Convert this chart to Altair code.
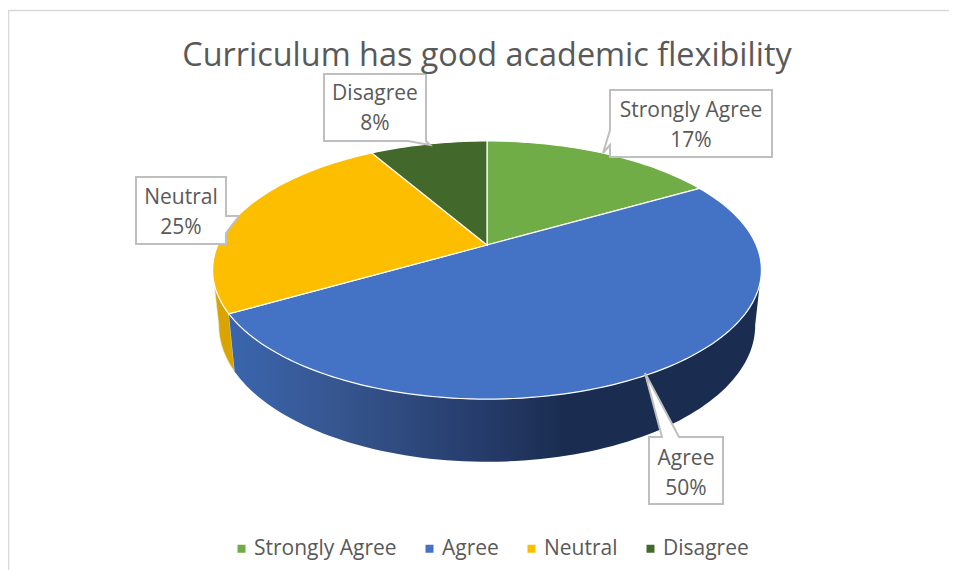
import math
import altair as alt

# ---- data ----
categories = ["Strongly Agree", "Agree", "Neutral", "Disagree"]
counts = [2, 6, 3, 1]
colors = ["#70AD47", "#4472C4", "#FDBE00", "#43682B"]
title_text = "Curriculum has good academic flexibility"

# ---- layout (page pixels) ----
OFF = 8
CX, CY = 487, 245
A, B, C = 124.2, 269.2, -0.194      # perspective of top rim
LOW_CY, LOW_A, LOW_B = 299, 131.2, 263.1
RIGHT_T, LEFT_T = 101, 259          # silhouette angles of the wall
TEXT = "#595959"
FONT = "Open Sans"
EDGE = "#BFBFBF"
W, H = 941, 562

label_boxes = {
    "Strongly Agree": dict(cx=691, y=111, pts=[(610, 90), (772, 90), (772, 157), (610, 157), (610, 145), (603, 153), (610, 130)]),
    "Agree": dict(cx=686, y=459, pts=[(649, 437), (662, 437), (645, 373), (679, 437), (723, 437), (723, 504), (649, 504)]),
    "Neutral": dict(cx=181, y=198, pts=[(136, 177), (226, 177), (226, 216), (239, 216), (226, 233), (226, 244), (136, 244)]),
    "Disagree": dict(cx=375, y=94, pts=[(324, 74), (426, 74), (426, 141), (430, 145), (408, 141), (324, 141)]),
}


def top(t):
    r = math.radians(t)
    u, v = math.sin(r), -math.cos(r)
    d = 1 + C * v
    return (CX + B * u / d, CY + A * v / d)


def low(t):
    r = math.radians(t)
    u, v = math.sin(r), -math.cos(r)
    d = 1 + C * v
    return (CX + LOW_B * u / d, LOW_CY + LOW_A * v / d)


def shift(pts):
    return [[round(x - OFF, 2), round(y - OFF, 2)] for x, y in pts]


def feature(pts, name=""):
    ring = shift(pts)
    ring.append(ring[0])
    return {"type": "Feature", "properties": {"name": name},
            "geometry": {"type": "Polygon", "coordinates": [ring]}}


def sweep(a, b, fn):
    n = max(2, int(abs(b - a) / 1.5))
    return [fn(a + (b - a) * i / n) for i in range(n + 1)]


total = sum(counts)
edges = [0]
for c in counts:
    edges.append(edges[-1] + 360 * c / total)

proj = dict(type="identity", scale=1, translate=[0, 0])

# walls
yellow_wall = feature(sweep(edges[2], LEFT_T, top) + sweep(LEFT_T, edges[2], low))
blue_wall = feature(sweep(RIGHT_T, edges[2], top) + sweep(edges[2], RIGHT_T, low))

blue_grad = alt.LinearGradient(
    gradient="linear", x1=0, x2=1, y1=0, y2=0,
    stops=[
        alt.GradientStop(offset=0, color="#3A66AE"),
        alt.GradientStop(offset=0.2, color="#365690"),
        alt.GradientStop(offset=0.47, color="#263C6B"),
        alt.GradientStop(offset=0.63, color="#1A2D50"),
        alt.GradientStop(offset=1, color="#1A2D50"),
    ],
)

wall_y = alt.Chart(alt.Data(values=[yellow_wall])).mark_geoshape(
    fill="#D9A300", stroke="#E8E4D0", strokeWidth=0.6).project(**proj)
wall_b = alt.Chart(alt.Data(values=[blue_wall])).mark_geoshape(
    fill=blue_grad, strokeWidth=0).project(**proj)

# top slices
slices = []
for i, name in enumerate(categories):
    pts = [(CX, CY)] + sweep(edges[i], edges[i + 1], top)
    slices.append(feature(pts, name))

top_layer = alt.Chart(alt.Data(values=slices)).mark_geoshape(
    stroke="white", strokeWidth=1.2
).encode(
    color=alt.Color(
        "properties.name:N",
        scale=alt.Scale(domain=categories, range=colors),
        legend=alt.Legend(
            title=None, orient="none", legendX=223, legendY=530,
            direction="horizontal", columns=4, symbolType="square",
            symbolSize=64, symbolStrokeWidth=0, labelFont=FONT, labelFontSize=21,
            labelColor=TEXT, labelOffset=2, columnPadding=22, labelLimit=300,
        ),
    )
).project(**proj)

# callouts
boxes = []
texts = []
for name, c in zip(categories, counts):
    info = label_boxes[name]
    boxes.append(alt.Chart(alt.Data(values=[feature(info["pts"])])).mark_geoshape(
        fill="white", stroke=EDGE, strokeWidth=2).project(**proj))
    pct = round(100 * c / total)
    texts.append(alt.Chart(alt.Data(values=[{"t": f"{name}\n{pct}%"}])).mark_text(
        font=FONT, fontSize=21, color=TEXT, align="center", baseline="middle",
        lineBreak="\n", lineHeight=30,
    ).encode(text="t:N", x=alt.value(info["cx"] - OFF), y=alt.value(info["y"] - OFF)))

# frame
frame_top = alt.Chart(alt.Data(values=[{"a": 0}])).mark_rule(color="#D9D9D9", strokeWidth=1.5).encode(
    x=alt.value(0), x2=alt.value(W), y=alt.value(2.6))
frame_left = alt.Chart(alt.Data(values=[{"a": 0}])).mark_rule(color="#D9D9D9", strokeWidth=1.5).encode(
    x=alt.value(0.5), y=alt.value(2), y2=alt.value(H))

chart = alt.layer(
    frame_top, frame_left, wall_y, wall_b, top_layer, *boxes, *texts
).properties(
    width=W, height=H,
    padding=0,
    background="white",
    autosize=alt.AutoSizeParams(type="none"),
    title=alt.Title(title_text, font=FONT, fontSize=32.4, fontWeight="normal", color=TEXT,
                    anchor="middle", dx=8.5, dy=68),
).configure_view(stroke=None)

chart.save("out.html", embed_options={"renderer": "svg", "actions": False})
